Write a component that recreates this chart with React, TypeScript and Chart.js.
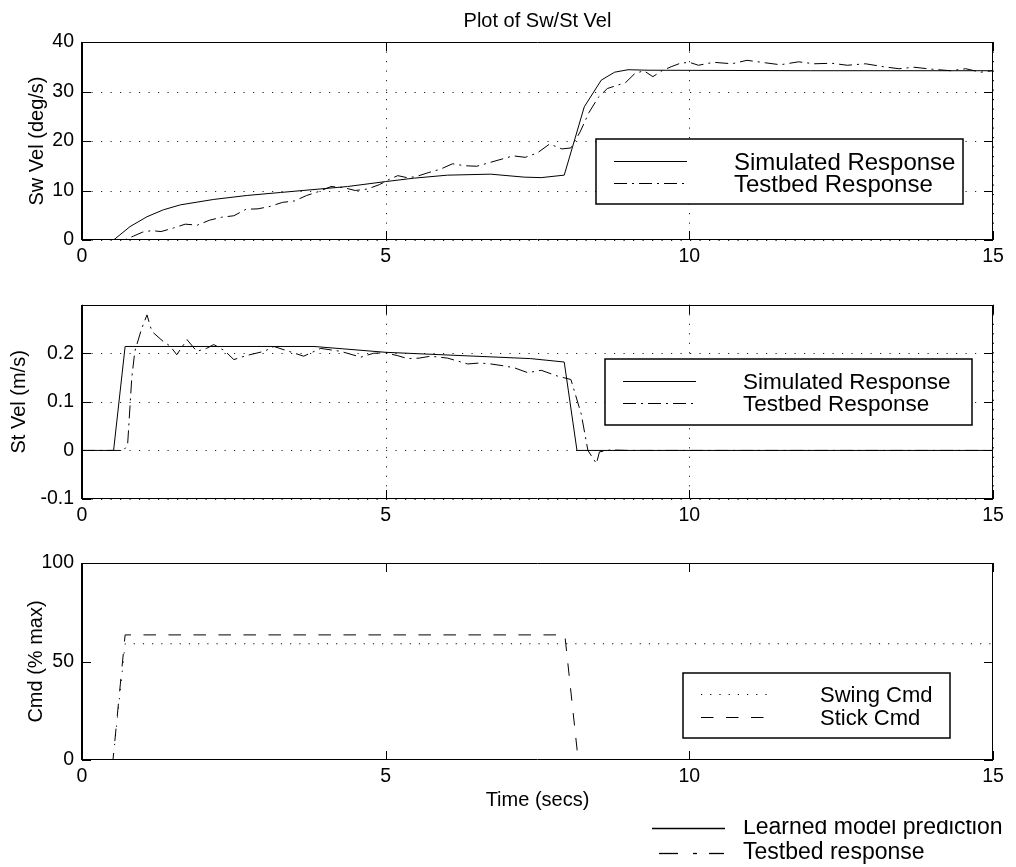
import React, { useEffect, useRef } from "react";
import { Chart, registerables } from "chart.js";

Chart.register(...registerables);

const FONT = "'Liberation Sans', Arial, Helvetica, sans-serif";

// ---------------- data ----------------
const timeTicks = [0, 5, 10, 15];
const timeTickLabels = ["0", "5", "10", "15"];

// Panel 1 : swing velocity (deg/s)
const swTicks = [0, 10, 20, 30, 40];
const swTickLabels = ["0", "10", "20", "30", "40"];
const swSimT = [0, 0.52, 0.79, 1.07, 1.34, 1.62, 2.17, 2.72, 3.27, 3.82, 4.37, 5.0, 5.47, 6.02, 6.73, 7.28, 7.56, 7.94, 8.11, 8.27, 8.55, 8.77, 8.99, 9.32, 12, 15];
const swSimV = [0, 0, 2.7, 4.7, 6.1, 7.1, 8.2, 9.0, 9.6, 10.2, 10.8, 11.8, 12.5, 13.1, 13.3, 12.7, 12.6, 13.1, 20.2, 26.9, 32.3, 33.9, 34.4, 34.3, 34.2, 34.2];
const swTestT = [0, 0.7, 0.85, 1.0, 1.15, 1.3, 1.5, 1.7, 1.9, 2.1, 2.3, 2.5, 2.7, 2.9, 3.1, 3.3, 3.5, 3.7, 3.9, 4.1, 4.3, 4.5, 4.7, 4.9, 5.05, 5.2, 5.35, 5.5, 5.7, 5.9, 6.1, 6.3, 6.5, 6.7, 6.9, 7.1, 7.3, 7.5, 7.7, 7.9, 8.05, 8.2, 8.35, 8.5, 8.65, 8.8, 8.95, 9.1, 9.25, 9.4, 9.55, 9.7, 9.85, 10.0, 10.15, 10.4, 10.7, 10.95, 11.25, 11.5, 11.8, 12.05, 12.35, 12.6, 12.9, 13.2, 13.45, 13.7, 14.0, 14.3, 14.55, 14.8, 15];
const swTestV = [0, 0, 0.8, 1.6, 1.9, 1.7, 2.4, 3.2, 3.0, 4.0, 4.6, 4.9, 6.2, 6.3, 6.8, 7.6, 7.9, 9.0, 9.8, 10.8, 10.6, 10.0, 10.3, 11.2, 12.2, 13.0, 12.6, 12.8, 13.6, 14.3, 15.4, 15.0, 14.9, 15.6, 16.3, 17.0, 16.7, 17.6, 19.4, 18.4, 18.6, 21.8, 25.8, 28.8, 30.6, 31.2, 31.8, 33.6, 34.2, 33.0, 34.2, 35.0, 35.7, 35.9, 35.3, 35.9, 35.6, 36.3, 35.8, 35.4, 36.0, 35.6, 35.7, 35.3, 35.6, 35.0, 34.6, 34.9, 34.5, 34.2, 34.6, 33.9, 34.2];

// Panel 2 : stick velocity (m/s)
const stTicks = [-0.1, 0, 0.1, 0.2, 0.3];
const stTickLabels = ["-0.1", "0", "0.1", "0.2", ""];
const stSimT = [0, 0.52, 0.71, 3.82, 5.0, 7.39, 7.94, 8.15, 15];
const stSimV = [0, 0, 0.214, 0.214, 0.202, 0.189, 0.182, 0, 0];
const stTestT = [0, 0.68, 0.75, 0.82, 0.87, 0.98, 1.07, 1.15, 1.34, 1.45, 1.56, 1.73, 1.89, 2.05, 2.17, 2.35, 2.5, 2.7, 2.83, 3.0, 3.16, 3.38, 3.65, 3.93, 4.26, 4.59, 4.8, 5.0, 5.2, 5.36, 5.55, 5.74, 6.02, 6.35, 6.55, 6.73, 6.95, 7.12, 7.34, 7.56, 7.83, 8.05, 8.22, 8.33, 8.47, 8.52, 8.7, 9.0, 15];
const stTestV = [0, 0, 0.01, 0.15, 0.204, 0.25, 0.279, 0.245, 0.224, 0.215, 0.197, 0.228, 0.204, 0.21, 0.218, 0.205, 0.187, 0.195, 0.199, 0.204, 0.214, 0.205, 0.194, 0.21, 0.204, 0.192, 0.2, 0.201, 0.195, 0.189, 0.19, 0.194, 0.19, 0.178, 0.18, 0.178, 0.174, 0.17, 0.16, 0.165, 0.153, 0.146, 0.075, 0, -0.027, -0.003, 0.001, 0, 0];

// Panel 3 : commands (% max)
const cmdTicks = [0, 50, 100];
const cmdTickLabels = ["0", "50", "100"];
const swingCmdT = [0, 0.51, 0.71, 15];
const swingCmdV = [0, 0, 59, 59];
const stickCmdT = [0, 0.51, 0.71, 7.95, 8.17, 15];
const stickCmdV = [0, 0, 63.5, 63.5, 0, 0];

// ---------------- layout / styles ----------------
const W = 1016;
const H = 867;
const PLOT_LEFT = 82;
const PLOT_RIGHT = 993;
const SOLID: number[] = [];
const DASHDOT = [13, 5, 2, 5];
const DOTTED = [1.2, 8];
const DASHED = [12.5, 12.5];
const GRID_DASH = [1.2, 8.3];

type Series = { label: string; t: number[]; v: number[]; dash: number[] };
type Legend = { box: [number, number, number, number]; x1: number; x2: number; textX: number; fontSize: number; rowY: number[] };
type PanelSpec = {
  canvasTop: number;
  canvasHeight: number;
  areaTop: number;
  areaBottom: number;
  yMin: number;
  yMax: number;
  yTicks: number[];
  yTickLabels: string[];
  yTitle: string;
  yTitleCenter: number;
  grid: boolean;
  xTitle?: string;
  series: Series[];
  legend: Legend;
};

const panels: PanelSpec[] = [
  {
    canvasTop: 0, canvasHeight: 285, areaTop: 42, areaBottom: 240,
    yMin: 0, yMax: 40, yTicks: swTicks, yTickLabels: swTickLabels,
    yTitle: "Sw Vel (deg/s)", yTitleCenter: 37, grid: true,
    series: [
      { label: "Simulated Response", t: swSimT, v: swSimV, dash: SOLID },
      { label: "Testbed Response", t: swTestT, v: swTestV, dash: DASHDOT },
    ],
    legend: { box: [596, 139, 963, 204], x1: 614, x2: 687, textX: 734, fontSize: 24, rowY: [161, 183] },
  },
  {
    canvasTop: 285, canvasHeight: 245, areaTop: 303, areaBottom: 499,
    yMin: -0.1, yMax: 0.3, yTicks: stTicks, yTickLabels: stTickLabels,
    yTitle: "St Vel (m/s)", yTitleCenter: 19, grid: true,
    series: [
      { label: "Simulated Response", t: stSimT, v: stSimV, dash: SOLID },
      { label: "Testbed Response", t: stTestT, v: stTestV, dash: DASHDOT },
    ],
    legend: { box: [605, 359, 972, 425], x1: 623, x2: 696, textX: 743, fontSize: 22.5, rowY: [381, 403] },
  },
  {
    canvasTop: 530, canvasHeight: 290, areaTop: 563, areaBottom: 760,
    yMin: 0, yMax: 100, yTicks: cmdTicks, yTickLabels: cmdTickLabels,
    yTitle: "Cmd (% max)", yTitleCenter: 36, grid: false, xTitle: "Time (secs)",
    series: [
      { label: "Swing Cmd", t: swingCmdT, v: swingCmdV, dash: DOTTED },
      { label: "Stick Cmd", t: stickCmdT, v: stickCmdV, dash: DASHED },
    ],
    legend: { box: [683, 673, 950, 738], x1: 701, x2: 767, textX: 820, fontSize: 22, rowY: [694, 717] },
  },
];

function Panel({ spec }: { spec: PanelSpec }) {
  const ref = useRef<HTMLCanvasElement | null>(null);

  useEffect(() => {
    const canvas = ref.current;
    if (!canvas) return;
    const off = spec.canvasTop;

    const plugin = {
      id: "matlabAxes",
      beforeDatasetsDraw(chart: any) {
        if (!spec.grid) return;
        const { ctx, chartArea: a } = chart;
        const xs = chart.scales.x;
        const ys = chart.scales.y;
        ctx.save();
        ctx.strokeStyle = "#222";
        ctx.lineWidth = 1;
        ctx.setLineDash(GRID_DASH);
        xs.ticks.forEach((tk: any) => {
          const px = Math.round(xs.getPixelForValue(tk.value)) + 0.5;
          ctx.beginPath();
          ctx.moveTo(px, a.top);
          ctx.lineTo(px, a.bottom);
          ctx.stroke();
        });
        ys.ticks.forEach((tk: any) => {
          const py = Math.round(ys.getPixelForValue(tk.value)) + 0.5;
          ctx.beginPath();
          ctx.moveTo(a.left, py);
          ctx.lineTo(a.right, py);
          ctx.stroke();
        });
        ctx.restore();
      },
      afterDraw(chart: any) {
        const { ctx, chartArea: a } = chart;
        const xs = chart.scales.x;
        const ys = chart.scales.y;
        const L = Math.round(a.left);
        const R = Math.round(a.right);
        const T = Math.round(a.top);
        const B = Math.round(a.bottom);
        ctx.save();
        ctx.setLineDash([]);
        ctx.strokeStyle = "#000";
        // frame
        ctx.lineWidth = 1;
        ctx.beginPath();
        ctx.moveTo(L, T + 0.5);
        ctx.lineTo(R, T + 0.5);
        ctx.moveTo(R - 0.5, T);
        ctx.lineTo(R - 0.5, B);
        ctx.moveTo(L, B - 0.5);
        ctx.lineTo(R, B - 0.5);
        ctx.stroke();
        ctx.lineWidth = 2;
        ctx.beginPath();
        ctx.moveTo(L, T);
        ctx.lineTo(L, B);
        ctx.stroke();
        // inward tick marks
        const TL = 9;
        ctx.lineWidth = 1;
        ctx.beginPath();
        xs.ticks.forEach((tk: any) => {
          const px = Math.round(xs.getPixelForValue(tk.value)) + 0.5;
          ctx.moveTo(px, B);
          ctx.lineTo(px, B - TL);
          ctx.moveTo(px, T);
          ctx.lineTo(px, T + TL);
        });
        ys.ticks.forEach((tk: any) => {
          const py = Math.round(ys.getPixelForValue(tk.value)) + 0.5;
          ctx.moveTo(L, py);
          ctx.lineTo(L + TL, py);
          ctx.moveTo(R, py);
          ctx.lineTo(R - TL, py);
        });
        ctx.stroke();
        // legend box
        const lg = spec.legend;
        const [bx1, by1, bx2, by2] = lg.box;
        ctx.fillStyle = "#fff";
        ctx.fillRect(bx1, by1 - off, bx2 - bx1, by2 - by1);
        ctx.lineWidth = 1.5;
        ctx.strokeRect(bx1, by1 - off, bx2 - bx1, by2 - by1);
        ctx.font = `${lg.fontSize}px ${FONT}`;
        ctx.textBaseline = "alphabetic";
        ctx.textAlign = "left";
        ctx.fillStyle = "#000";
        chart.data.datasets.forEach((ds: any, i: number) => {
          const y = lg.rowY[i] - off;
          ctx.lineWidth = 1;
          ctx.setLineDash(spec.series[i].dash);
          ctx.beginPath();
          ctx.moveTo(lg.x1, y + 0.5);
          ctx.lineTo(lg.x2, y + 0.5);
          ctx.stroke();
          ctx.setLineDash([]);
          ctx.fillText(ds.label, lg.textX, y + lg.fontSize * 0.358);
        });
        ctx.restore();
      },
    };

    const tickFont = { family: FONT, size: 19.5, lineHeight: 1.2 };
    const titleFont = { family: FONT, size: 20, lineHeight: 1.2 };

    const chart = new Chart(canvas, {
      type: "line",
      data: {
        datasets: spec.series.map((s) => ({
          label: s.label,
          data: s.t.map((t, i) => ({ x: t, y: s.v[i] })),
          borderColor: "#000",
          backgroundColor: "#000",
          borderWidth: 1,
          borderDash: s.dash,
          pointRadius: 0,
          fill: false,
          tension: 0,
        })),
      },
      options: {
        responsive: false,
        animation: false,
        devicePixelRatio: 1,
        events: [],
        layout: {
          padding: { left: 0, right: W - PLOT_RIGHT, top: spec.areaTop - off, bottom: 0 },
        },
        plugins: {
          legend: { display: false },
          tooltip: { enabled: false },
          title: { display: false },
        },
        scales: {
          x: {
            type: "linear",
            min: 0,
            max: 15,
            afterBuildTicks: (s: any) => {
              s.ticks = timeTicks.map((v) => ({ value: v }));
            },
            afterFit: (s: any) => {
              s.height = off + spec.canvasHeight - spec.areaBottom;
            },
            grid: { display: false, drawTicks: false },
            border: { display: false },
            ticks: {
              font: tickFont,
              color: "#000",
              padding: 5,
              maxRotation: 0,
              autoSkip: false,
              callback: (_v: any, i: number) => timeTickLabels[i],
            },
            title: {
              display: !!spec.xTitle,
              text: spec.xTitle || "",
              font: titleFont,
              color: "#000",
              padding: { top: 0, bottom: 8 },
            },
          },
          y: {
            type: "linear",
            min: spec.yMin,
            max: spec.yMax,
            afterBuildTicks: (s: any) => {
              s.ticks = spec.yTicks.map((v) => ({ value: v }));
            },
            afterFit: (s: any) => {
              s.width = PLOT_LEFT;
            },
            grid: { display: false, drawTicks: false },
            border: { display: false },
            ticks: {
              font: tickFont,
              color: "#000",
              padding: 8,
              autoSkip: false,
              callback: (_v: any, i: number) => spec.yTickLabels[i],
            },
            title: {
              display: true,
              text: spec.yTitle,
              font: titleFont,
              color: "#000",
              padding: { top: spec.yTitleCenter - 12, bottom: 0 },
            },
          },
        },
      },
      plugins: [plugin],
    } as any);

    return () => chart.destroy();
  }, [spec]);

  return (
    <canvas
      ref={ref}
      width={W}
      height={spec.canvasHeight}
      style={{ position: "absolute", left: 0, top: spec.canvasTop, width: W, height: spec.canvasHeight }}
    />
  );
}

export default function App() {
  return (
    <div style={{ position: "absolute", left: 0, top: 0, width: W, height: H, background: "#fff", overflow: "hidden" }}>
      {panels.map((p, i) => (
        <Panel key={i} spec={p} />
      ))}
      <svg
        width={W}
        height={H}
        style={{ position: "absolute", left: 0, top: 0, pointerEvents: "none" }}
        fontFamily={FONT}
      >
        <defs>
          <clipPath id="bottomClip">
            <rect x={0} y={820} width={W} height={H - 820} />
          </clipPath>
        </defs>
        <text x={537.5} y={26.5} textAnchor="middle" fontSize={20} fill="#000">
          Plot of Sw/St Vel
        </text>
        <line x1={652} x2={725} y1={828.5} y2={828.5} stroke="#000" strokeWidth={1.3} />
        <text x={743} y={834} fontSize={23} fill="#000" clipPath="url(#bottomClip)">
          Learned model prediction
        </text>
        <line x1={659} x2={678} y1={853.5} y2={853.5} stroke="#000" strokeWidth={1.3} />
        <line x1={693} x2={697} y1={853.5} y2={853.5} stroke="#000" strokeWidth={1.3} />
        <line x1={709} x2={724} y1={853.5} y2={853.5} stroke="#000" strokeWidth={1.3} />
        <text x={743} y={859} fontSize={23} fill="#000">
          Testbed response
        </text>
      </svg>
    </div>
  );
}
